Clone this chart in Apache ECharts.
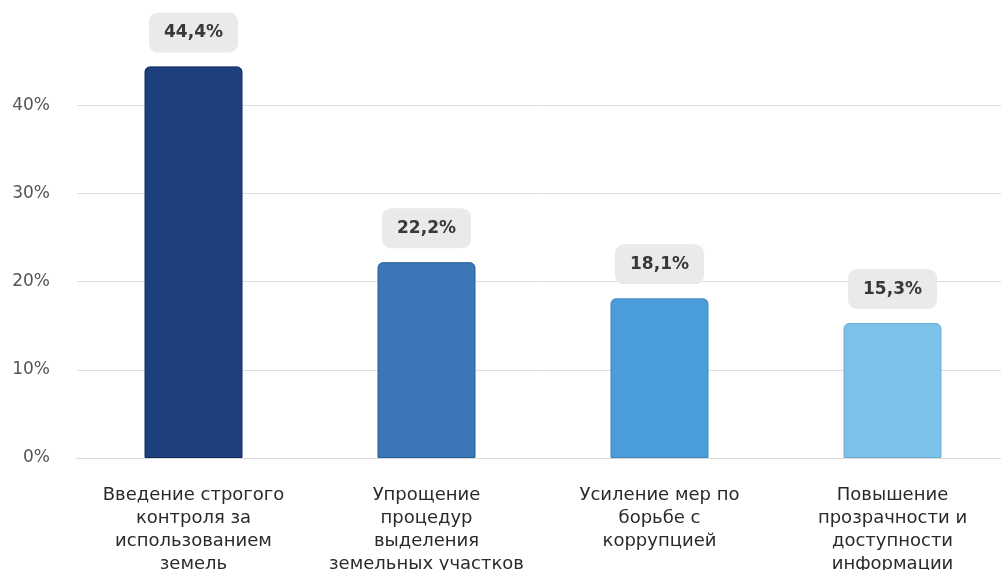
<!DOCTYPE html>
<html>
<head>
<meta charset="utf-8">
<style>
  html, body { margin: 0; padding: 0; background: #ffffff; }
  #chart { width: 1001px; height: 570px; }
</style>
<script src="https://cdn.jsdelivr.net/npm/echarts@6/dist/echarts.min.js"></script>
</head>
<body>
<div id="chart"></div>
<script>
// Survey shares by proposed measure (percent)
const categories = [
  'Введение строгого\nконтроля за\nиспользованием\nземель',
  'Упрощение\nпроцедур\nвыделения\nземельных участков',
  'Усиление мер по\nборьбе с\nкоррупцией',
  'Повышение\nпрозрачности и\nдоступности\nинформации'
];
const values = [44.4, 22.2, 18.1, 15.3];
const valueLabels = ['44,4%', '22,2%', '18,1%', '15,3%'];
const yTicks = [0, 10, 20, 30, 40];

const barColors = ['#1d3f7e', '#3b77b6', '#4a9dd8', '#7cc1e7'];
const borderColors = ['#102a5c', '#2a5f98', '#3a87c0', '#6aaed6'];

const FONT = 'DejaVu Sans';

const chart = echarts.init(document.getElementById('chart'), null, { renderer: 'canvas' });

chart.setOption({
  animation: false,
  backgroundColor: '#ffffff',
  grid: {
    left: 77, right: -8, top: 17, bottom: 112,
    containLabel: false,
    outerBoundsMode: 'none'
  },
  xAxis: {
    type: 'category',
    data: categories,
    axisLine: { show: true, lineStyle: { color: '#d9d9d9', width: 1 } },
    axisTick: { show: false },
    axisLabel: {
      interval: 0,
      margin: 26,
      fontFamily: FONT,
      fontSize: 18,
      lineHeight: 23,
      color: '#2a2a2a',
      align: 'center'
    }
  },
  yAxis: {
    type: 'value',
    min: 0,
    max: 50,
    interval: 10,
    axisLine: { show: false },
    axisTick: { show: false },
    splitLine: { show: true, showMaxLine: false, lineStyle: { color: '#dedede', width: 1 } },
    axisLabel: {
      showMaxLabel: false,
      margin: 27,
      fontFamily: FONT,
      fontSize: 17,
      color: '#555555',
      formatter: function (v) { return yTicks.indexOf(v) >= 0 ? v + '%' : ''; }
    }
  },
  series: [{
    type: 'bar',
    barWidth: 98,
    data: values.map(function (v, i) {
      return {
        value: v,
        itemStyle: {
          color: barColors[i],
          borderColor: borderColors[i],
          borderWidth: 1,
          borderRadius: [5, 5, 0, 0]
        }
      };
    }),
    label: {
      show: true,
      position: 'top',
      distance: 14,
      formatter: function (p) { return valueLabels[p.dataIndex]; },
      fontFamily: FONT,
      fontSize: 17,
      fontWeight: 'bold',
      color: '#383838',
      backgroundColor: '#e9eaec',
      borderRadius: 9,
      padding: [12, 15, 11, 15]
    }
  }]
});
</script>
</body>
</html>
